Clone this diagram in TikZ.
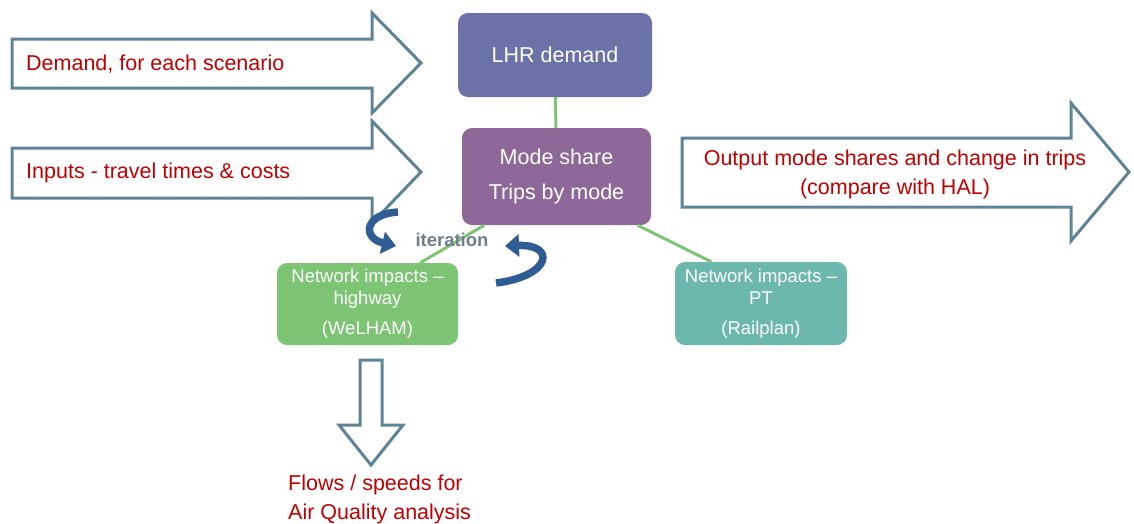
\documentclass[tikz,border=0pt]{standalone}
\usepackage{fontspec}
\setmainfont{Liberation Sans}
\usetikzlibrary{arrows.meta}

\definecolor{arrowline}{HTML}{5F8396}
\definecolor{redtext}{HTML}{C00000}
\definecolor{lhrblue}{HTML}{6B72A8}
\definecolor{modepurple}{HTML}{8E6898}
\definecolor{hwgreen}{HTML}{7DC475}
\definecolor{ptteal}{HTML}{6CB8AE}
\definecolor{curlblue}{HTML}{2F5C93}
\definecolor{itergrey}{HTML}{6F7D8C}

\begin{document}
\begin{tikzpicture}[x=1pt, y=-1pt]

        \tikzstyle{block} = [rectangle, rounded corners=10pt, text=white, align=center, inner sep=0pt]
        \tikzstyle{bigarrow} = [draw=arrowline, line width=3pt, fill=white]
        \tikzstyle{label} = [text=redtext, inner sep=0pt, font=\fontsize{21.5}{29}\selectfont]
        \tikzstyle{link} = [draw=hwgreen, line width=3pt]
        \tikzstyle{curl} = [draw=curlblue, line width=7.5pt, -{Triangle[length=14pt, width=22pt]}]

        \useasboundingbox (0,0) rectangle (1134,523);

        % input and output arrows
        \path [bigarrow] (12,39) -- (372,39) -- (372,13) -- (421,63) -- (372,113) -- (372,88) -- (12,88) -- cycle;
        \path [bigarrow] (12,148) -- (372,148) -- (372,121) -- (421,172) -- (372,223) -- (372,198) -- (12,198) -- cycle;
        \path [bigarrow] (682,138) -- (1071,138) -- (1071,103) -- (1129,172) -- (1071,241) -- (1071,207) -- (682,207) -- cycle;
        \path [bigarrow] (360,360) -- (382,360) -- (382,425) -- (403,425) -- (371,465) -- (339,425) -- (360,425) -- cycle;

        \node [label, anchor=west] (demand) at (26,64) {Demand, for each scenario};
        \node [label, anchor=west] (inputs) at (26,173) {Inputs - travel times \& costs};
        \node [label, align=center] (output) at (895,174) {Output mode shares and change in trips\\(compare with HAL)};
        \node [label, align=left, anchor=north west] (flows) at (288,475) {Flows / speeds for\\Air Quality analysis};

        % model boxes
        \node [block, fill=lhrblue, minimum width=194pt, minimum height=84pt, font=\fontsize{21.5}{26}\selectfont] (lhr) at (555,55) {LHR demand};
        \node [block, fill=modepurple, minimum width=189pt, minimum height=97pt, font=\fontsize{21.5}{35}\selectfont] (mode) at (556.5,176.5) {Mode share\\Trips by mode};
        \node [block, fill=hwgreen, minimum width=181pt, minimum height=82pt, font=\fontsize{18.5}{22}\selectfont] (highway) at (367.5,304) {Network impacts --\\highway\\[8pt](WeLHAM)};
        \node [block, fill=ptteal, minimum width=172pt, minimum height=83pt, font=\fontsize{18.5}{22}\selectfont] (pt) at (761,303.5) {Network impacts --\\PT\\[8pt](Railplan)};

        \draw [link] (lhr) -- (mode);
        \draw [link] (mode.214) -- (highway.38);
        \draw [link] (mode.-31) -- (pt.140);

        \node [text=itergrey, font=\bfseries\fontsize{18.5}{20}\selectfont, inner sep=0pt] (iter) at (452,240) {iteration};

        % iteration loop
        \coordinate (c1) at (398,212);
        \coordinate (c2) at (396,246);
        \coordinate (c3) at (496,283);
        \coordinate (c4) at (505,246);
        \draw [curl] (c1) .. controls (364,214) and (362,238) .. (c2);
        \draw [curl] (c3) .. controls (552,276) and (556,244) .. (c4);

    \end{tikzpicture}
\end{document}
